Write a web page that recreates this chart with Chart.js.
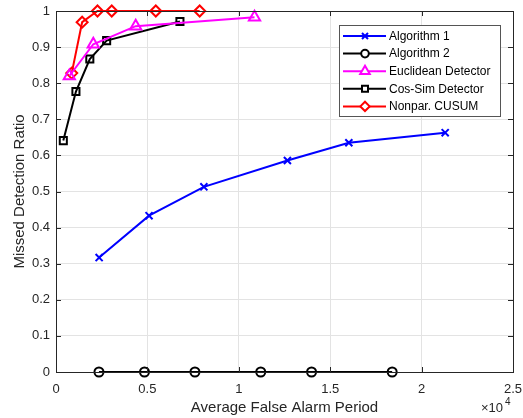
<!DOCTYPE html>
<html>
<head>
<meta charset="utf-8">
<script src="https://cdn.jsdelivr.net/npm/chart.js@4.4.1/dist/chart.umd.min.js"></script>
<style>
  html, body { margin: 0; padding: 0; background: #fff; }
  #wrap { width: 523px; height: 418px; }
</style>
</head>
<body>
<div id="wrap"><canvas id="canvas" width="523" height="418"></canvas></div>
<script>
// values (x in raw units, axis shows x10^4)
const alg1X = [2360, 5090, 8090, 12660, 16020, 21290];
const alg1Y = [0.317, 0.433, 0.513, 0.586, 0.635, 0.663];

const alg2X = [2350, 4840, 7600, 11200, 13980, 18390];
const alg2Y = [0, 0, 0, 0, 0, 0];

const eucX = [730, 2040, 4360, 10860];
const eucY = [0.82, 0.908, 0.958, 0.983];

const cosX = [400, 1090, 1850, 2770, 6780];
const cosY = [0.641, 0.777, 0.867, 0.918, 0.971];

const cusumX = [860, 1430, 2270, 3050, 5460, 7860];
const cusumY = [0.828, 0.969, 1, 1, 1, 1];

const seriesNames = ["Algorithm 1", "Algorithm 2", "Euclidean Detector", "Cos-Sim Detector", "Nonpar. CUSUM"];

const FONT = "'Liberation Sans', Arial, sans-serif";
const AXIS = "#262626";

function pts(xs, ys) {
  return xs.map((x, i) => ({ x: x, y: ys[i] }));
}

function series(label, data, color, style, radius) {
  return {
    label: label,
    data: data,
    borderColor: color,
    backgroundColor: color,
    borderWidth: 2,
    pointStyle: style,
    pointRadius: radius,
    pointBorderWidth: 2,
    pointBorderColor: color,
    pointBackgroundColor: "rgba(0,0,0,0)",
    showLine: true,
    tension: 0,
    clip: false,
  };
}

// box, inward ticks, x10^4 note and the legend box
const matlabLook = {
  id: "matlabLook",
  afterDraw(chart) {
    const ctx = chart.ctx;
    const a = chart.chartArea;
    const xs = chart.scales.x;
    const ys = chart.scales.y;
    ctx.save();

    ctx.strokeStyle = AXIS;
    ctx.lineWidth = 1;
    ctx.beginPath();
    xs.ticks.forEach((t) => {
      const px = Math.round(xs.getPixelForValue(t.value)) + 0.5;
      ctx.moveTo(px, a.bottom); ctx.lineTo(px, a.bottom - 5);
      ctx.moveTo(px, a.top); ctx.lineTo(px, a.top + 5);
    });
    ys.ticks.forEach((t) => {
      const py = Math.round(ys.getPixelForValue(t.value)) + 0.5;
      ctx.moveTo(a.left, py); ctx.lineTo(a.left + 5, py);
      ctx.moveTo(a.right, py); ctx.lineTo(a.right - 5, py);
    });
    ctx.stroke();
    ctx.strokeRect(Math.round(a.left) + 0.5, Math.round(a.top) + 0.5,
      Math.round(a.right - a.left), Math.round(a.bottom - a.top));

    // exponent note
    ctx.fillStyle = AXIS;
    ctx.textBaseline = "alphabetic";
    ctx.textAlign = "left";
    ctx.font = "13px " + FONT;
    ctx.fillText("\u00d710", 481, 412);
    ctx.font = "10px " + FONT;
    ctx.fillText("4", 505, 405);

    // legend
    const lx = 339, ly = 25, lw = 161, lh = 91;
    ctx.fillStyle = "#fff";
    ctx.fillRect(lx, ly, lw, lh);
    ctx.strokeStyle = "#555";
    ctx.strokeRect(lx + 0.5, ly + 0.5, lw, lh);
    ctx.font = "12px " + FONT;
    ctx.textBaseline = "middle";
    chart.data.datasets.forEach((ds, i) => {
      const y = ly + 11 + i * 17.6;
      ctx.strokeStyle = ds.borderColor;
      ctx.lineWidth = 2;
      ctx.beginPath();
      ctx.moveTo(343, y); ctx.lineTo(386, y);
      ctx.stroke();
      ctx.fillStyle = "#fff";
      Chart.helpers.drawPoint(ctx, {
        pointStyle: ds.pointStyle,
        radius: ds.pointRadius * 0.85,
        borderWidth: 2,
        rotation: 0,
      }, 365, y);
      ctx.fillStyle = "#000";
      ctx.fillText(ds.label, 389, y + 0.5);
    });
    ctx.restore();
  },
};

const chart = new Chart(document.getElementById("canvas"), {
  type: "scatter",
  data: {
    datasets: [
      series(seriesNames[0], pts(alg1X, alg1Y), "#0000ff", "crossRot", 5),
      series(seriesNames[1], pts(alg2X, alg2Y), "#000000", "circle", 4.5),
      series(seriesNames[2], pts(eucX, eucY), "#ff00ff", "triangle", 6.5),
      series(seriesNames[3], pts(cosX, cosY), "#000000", "rect", 5),
      series(seriesNames[4], pts(cusumX, cusumY), "#ff0000", "rectRot", 5.5),
    ],
  },
  options: {
    responsive: false,
    animation: false,
    devicePixelRatio: 1,
    layout: { padding: { top: 11, right: 10, left: 0, bottom: 0 } },
    plugins: {
      legend: { display: false },
      tooltip: { enabled: false },
    },
    scales: {
      x: {
        type: "linear",
        min: 0,
        max: 25000,
        afterFit: (s) => {
          s.height = 46;
          s.paddingLeft = 0;
          s.paddingRight = 0;
        },
        grid: { color: "#e3e3e3", drawTicks: false },
        border: { display: false },
        ticks: {
          stepSize: 5000,
          padding: 10,
          color: AXIS,
          font: { family: FONT, size: 13 },
          maxRotation: 0,
          callback: (v) => String(v / 10000),
        },
        title: {
          display: true,
          text: "Average False Alarm Period",
          color: AXIS,
          font: { family: FONT, size: 15 },
          padding: { top: 0, bottom: 1 },
        },
      },
      y: {
        type: "linear",
        min: 0,
        max: 1,
        afterFit: (s) => {
          s.width = 56;
          s.paddingTop = 0;
          s.paddingBottom = 0;
        },
        grid: { color: "#e3e3e3", drawTicks: false },
        border: { display: false },
        ticks: {
          stepSize: 0.1,
          padding: 6,
          color: AXIS,
          font: { family: FONT, size: 13 },
          callback: (v) => String(Math.round(v * 10) / 10),
        },
        title: {
          display: true,
          text: "Missed Detection Ratio",
          color: AXIS,
          font: { family: FONT, size: 15 },
          padding: { top: 11, bottom: 0 },
        },
      },
    },
  },
  plugins: [matlabLook],
});
</script>
</body>
</html>
